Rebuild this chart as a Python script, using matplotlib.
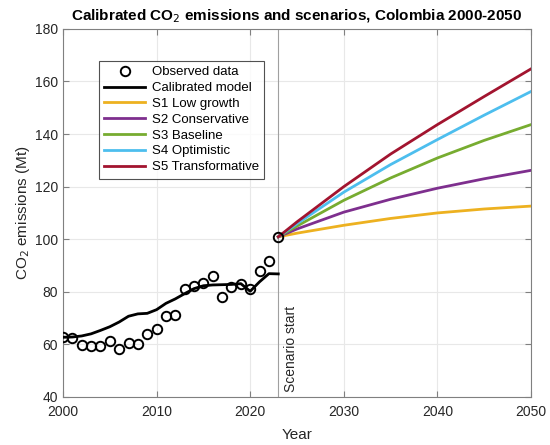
import numpy as np
import matplotlib
matplotlib.use('Agg')
import matplotlib.pyplot as plt

plt.rcParams['font.family'] = ['Liberation Sans', 'DejaVu Sans']

# observed data
obs_years = list(range(2000, 2024))
obs_vals = [62.7, 62.3, 59.7, 59.2, 59.4, 61.3, 58.3, 60.5, 60.2, 63.8, 65.9, 70.7,
            71.0, 81.0, 82.3, 83.5, 85.9, 78.2, 81.9, 82.8, 80.9, 87.9, 91.7, 100.9]

# calibrated model
model_years = list(range(2000, 2024))
model_vals = [62.7, 62.8, 63.2, 64.0, 65.3, 66.7, 68.5, 70.7, 71.6, 71.8, 73.2, 75.6,
              77.3, 79.3, 81.2, 82.3, 82.6, 82.7, 82.8, 83.1, 80.2, 83.8, 86.9, 86.8]

# scenarios
scen_years = [2023, 2025, 2030, 2035, 2040, 2045, 2050]
s1 = [100.9, 102.3, 105.3, 107.9, 110.0, 111.5, 112.6]
s2 = [100.9, 103.9, 110.3, 115.2, 119.4, 123.0, 126.2]
s3 = [100.9, 105.0, 114.8, 123.3, 130.9, 137.6, 143.6]
s4 = [100.9, 105.9, 117.9, 128.4, 137.9, 147.2, 156.2]
s5 = [100.9, 106.6, 120.0, 132.4, 143.6, 154.3, 164.8]
scen_names = ['S1 Low growth', 'S2 Conservative', 'S3 Baseline', 'S4 Optimistic', 'S5 Transformative']
scen_colors = ['#EDB120', '#7E2F8E', '#77AC30', '#4DBEEE', '#A2142F']

fig = plt.figure(figsize=(5.5, 4.45), dpi=100)
ax = fig.add_axes([0.1145, 0.108, 0.851, 0.827])

ax.plot(obs_years, obs_vals, 'o', mfc='none', mec='black', mew=1.4, ms=6.8,
        label='Observed data', zorder=5)
ax.plot(model_years, model_vals, color='black', lw=2, label='Calibrated model', zorder=4)
for vals, name, c in zip([s1, s2, s3, s4, s5], scen_names, scen_colors):
    ax.plot(scen_years, vals, color=c, lw=2, label=name, zorder=3)

ax.axvline(2023, color='#a0a0a0', lw=0.8, zorder=1)
ax.text(2023.6, 42, 'Scenario start', rotation=90, ha='left', va='bottom', fontsize=10,
        color='#262626')

ax.set_xlim(2000, 2050)
ax.set_ylim(40, 180)
ax.set_xticks([2000, 2010, 2020, 2030, 2040, 2050])
ax.set_yticks(np.arange(40, 181, 20))
ax.grid(True, color='#e8e8e8', lw=0.8)
ax.set_axisbelow(True)
for s in ax.spines.values():
    s.set_color('#808080')
    s.set_linewidth(0.8)
ax.tick_params(direction='in', top=True, right=True, colors='#808080', labelcolor='#262626',
               labelsize=10, length=4)
ax.tick_params(axis='x', pad=6)

ax.set_xlabel('Year', fontsize=11, color='#262626', labelpad=6)
ax.set_ylabel('CO$_2$ emissions (Mt)', fontsize=11, color='#262626', labelpad=2)
ax.set_title('Calibrated CO$_2$ emissions and scenarios, Colombia 2000-2050',
             fontsize=11, fontweight='bold', pad=6)

leg = ax.legend(loc='upper left', bbox_to_anchor=(0.077, 0.913), borderaxespad=0,
                fontsize=9.5, frameon=True, fancybox=False, edgecolor='#262626',
                handlelength=3.1, labelspacing=0.27, borderpad=0.4, handletextpad=0.5)
leg.get_frame().set_linewidth(0.8)

fig.savefig('out.png', dpi=100)
